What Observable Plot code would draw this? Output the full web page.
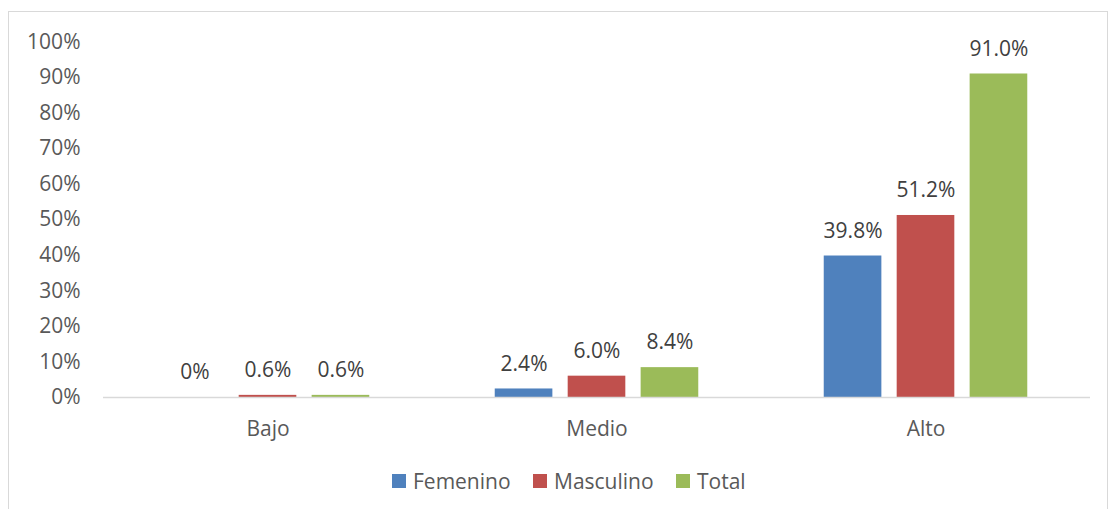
<!DOCTYPE html>
<html>
<head>
<meta charset="utf-8">
<script src="https://cdn.jsdelivr.net/npm/d3@7"></script>
<script src="https://cdn.jsdelivr.net/npm/@observablehq/plot@0.6"></script>
<style>
  html, body { margin: 0; padding: 0; background: #fff; }
  body { width: 1110px; height: 509px; position: relative; overflow: hidden; font-family: "Open Sans", sans-serif; }
  #frame { position: absolute; left: 8px; top: 11px; width: 1100px; height: 520px; border: 1px solid #d9d9d9; box-sizing: border-box; }
  #chart { position: absolute; left: 0; top: 0; }
  #legend { position: absolute; top: 467px; left: 0; width: 1110px; height: 28px; font-size: 21px; color: #595959; }
  .item { position: absolute; top: 0; display: flex; align-items: center; height: 28px; }
  .sw { width: 14px; height: 14px; margin-right: 7px; }
</style>
</head>
<body>
<div id="frame"></div>
<div id="chart"></div>
<div id="legend"></div>
<script>
const categories = ["Bajo", "Medio", "Alto"];
const series = ["Femenino", "Masculino", "Total"];
const femenino = [0, 0.024, 0.398];
const masculino = [0.006, 0.060, 0.512];
const total = [0.006, 0.084, 0.910];
const colors = ["#4f81bd", "#c0504d", "#9bbb59"];
const yTicks = [0, 0.1, 0.2, 0.3, 0.4, 0.5, 0.6, 0.7, 0.8, 0.9, 1.0];

const seriesValues = [femenino, masculino, total];
const data = [];
categories.forEach((c, i) => {
  series.forEach((s, j) => data.push({cat: c, series: s, value: seriesValues[j][i]}));
});
const fmt = v => v === 0 ? "0%" : (v * 100).toFixed(1) + "%";

const chart = Plot.plot({
  width: 1110,
  height: 455,
  marginLeft: 102,
  marginRight: 20,
  marginTop: 41.5,
  marginBottom: 58,
  style: {fontFamily: "'Open Sans', sans-serif", fontSize: "21px", color: "#595959", background: "transparent"},
  fx: {domain: categories, padding: 0, label: null, tickSize: 0, tickPadding: 24, axis: "bottom"},
  x: {domain: series, paddingInner: 0.21, paddingOuter: 0.86, axis: null, round: false},
  y: {domain: [0, 1], ticks: yTicks, tickFormat: d3.format(".0%"), label: null, tickSize: 0, tickPadding: 23},
  color: {domain: series, range: colors},
  marks: [
    Plot.barY(data, {fx: "cat", x: "series", y: "value", fill: "series"}),
    Plot.ruleY([0], {stroke: "#d9d9d9", strokeWidth: 1.5}),
    Plot.text(data, {fx: "cat", x: "series", y: "value", text: d => fmt(d.value), dy: -25, fill: "#404040", fontSize: 21})
  ]
});
document.getElementById("chart").appendChild(chart);

const legend = document.getElementById("legend");
const lefts = [392, 533, 676];
series.forEach((s, i) => {
  const it = document.createElement("div");
  it.className = "item";
  it.style.left = lefts[i] + "px";
  const sw = document.createElement("span");
  sw.className = "sw";
  sw.style.background = colors[i];
  const t = document.createElement("span");
  t.textContent = s;
  it.appendChild(sw); it.appendChild(t);
  legend.appendChild(it);
});
</script>
</body>
</html>
